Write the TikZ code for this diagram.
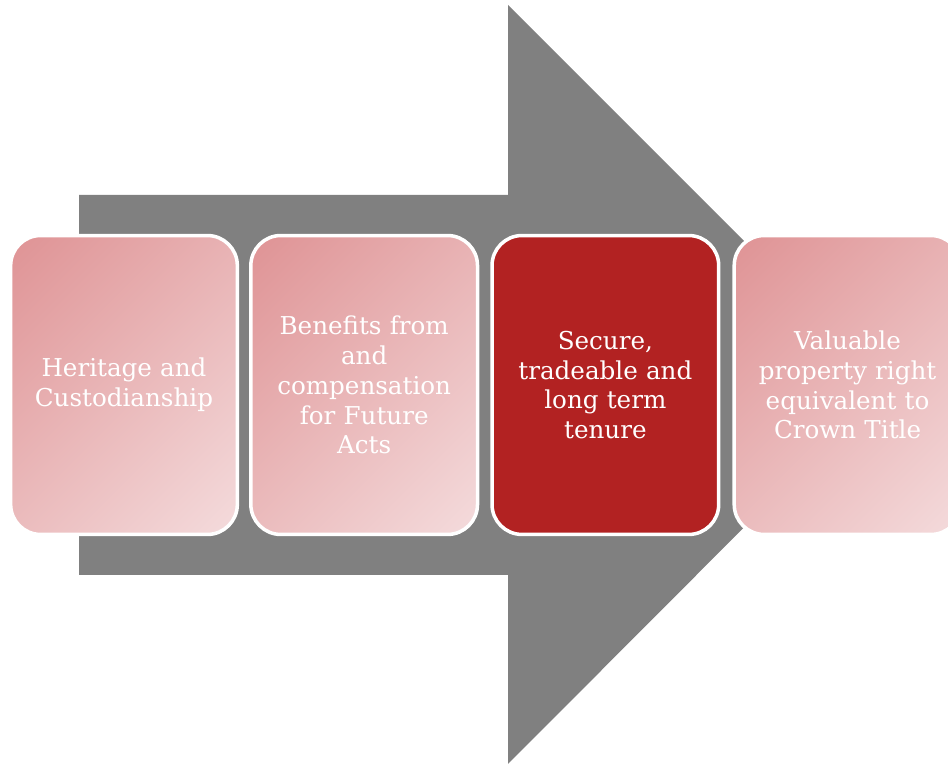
\documentclass[tikz,border=0pt]{standalone}
\usepackage{fontspec}
\setmainfont{DejaVu Serif}
\usetikzlibrary{positioning}
\definecolor{arrowgray}{RGB}{128,128,128}
\definecolor{pinkdark}{RGB}{222,144,146}
\definecolor{pinklight}{RGB}{245,222,223}
\definecolor{firebrick}{RGB}{178,34,34}
\pgfdeclareverticalshading{pinkfade}{100bp}{color(0bp)=(pinklight); color(12bp)=(pinklight); color(88bp)=(pinkdark); color(100bp)=(pinkdark)}
\tikzset{
	stage/.style={draw=white, line width=2pt, rounded corners=0.6cm,
		minimum width=4.52cm, minimum height=5.98cm, text width=4.3cm,
		align=center, text=white, font=\fontsize{14}{17}\selectfont},
	pale/.style={stage, shading=pinkfade, shading angle=45},
	strong/.style={stage, fill=firebrick}
}
\begin{document}
\begin{tikzpicture}[x=0.02cm, y=0.02cm]
			%%%%% START %%%%%
			\clip (0, 0) rectangle (948, 764);
			
			% big arrow behind the stages
			\fill[arrowgray] (79, 189) -- (79, 569) -- (508, 569) -- (508, 759) -- (887, 380) -- (508, 0) -- (508, 189) -- cycle;
			
			\node[pale] (heritage) at (124, 379) {Heritage and\\Custodianship};
			\node[pale, right=0.2cm of heritage] (benefits) {Benefits from\\and\\compensation\\for Future\\Acts};
			\node[strong, right=0.22cm of benefits] (tenure) {Secure,\\tradeable and\\long term\\tenure};
			\node[pale, right=0.24cm of tenure] (property) {Valuable\\property right\\equivalent to\\Crown Title};
			
			%%%%% END %%%%%
\end{tikzpicture}
\end{document}
